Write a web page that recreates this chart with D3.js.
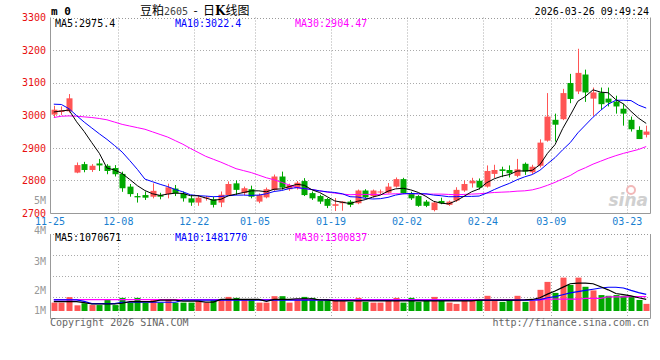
<!DOCTYPE html>
<html><head><meta charset="utf-8">
<script src="https://cdn.jsdelivr.net/npm/d3@7"></script>
<style>
body{margin:0;background:#fff}
svg{display:block}
text{font-family:"DejaVu Sans Mono",monospace;font-size:10px}
</style>
</head><body><div id="chart"></div>
<script>
// ---------- DATA ----------
const dates = ["11-25","11-26","11-27","11-28",
"12-01","12-02","12-03","12-04","12-05","12-08","12-09","12-10","12-11","12-12","12-15","12-16","12-17","12-18","12-19","12-22","12-23","12-24","12-25","12-26","12-29","12-30","12-31",
"01-05","01-06","01-07","01-08","01-09","01-12","01-13","01-14","01-15","01-16","01-19","01-20","01-21","01-22","01-23","01-26","01-27","01-28","01-29","01-30",
"02-02","02-03","02-04","02-05","02-06","02-09","02-10","02-11","02-12","02-13","02-24","02-25","02-26","02-27",
"03-02","03-03","03-04","03-05","03-06","03-09","03-10","03-11","03-12","03-13","03-16","03-17","03-18","03-19","03-20","03-23","03-24","03-25"];
const openP  = [3002,3010,3012,2824,2850,2832,2852,2845,2838,2820,2781,2752,2755,2750,2755,2758,2775,2760,2745,2732,2745,2742,2732,2755,2791,2761,2773,2735,2748,2771,2812,2773,2776,2798,2761,2752,2743,2722,2730,2735,2730,2769,2752,2763,2762,2781,2804,2761,2752,2735,2709,2737,2725,2738,2769,2791,2799,2781,2820,2834,2832,2814,2851,2825,2845,2922,2986,2988,3099,3073,3125,3051,3070,3051,3042,3020,2986,2955,2940];
const highP  = [3029,3027,3065,2855,2857,2850,2866,2850,2847,2827,2789,2761,2766,2791,2762,2790,2786,2766,2755,2755,2752,2750,2766,2797,2800,2781,2784,2760,2778,2818,2827,2790,2798,2807,2766,2756,2746,2746,2736,2740,2772,2773,2772,2772,2792,2809,2808,2765,2755,2740,2735,2747,2738,2779,2800,2808,2806,2846,2848,2842,2846,2866,2855,2848,2926,3068,3005,3081,3127,3204,3140,3085,3085,3085,3060,3035,2996,2966,2968];
const lowP   = [2992,3001,3008,2822,2825,2826,2829,2819,2812,2765,2750,2732,2740,2745,2742,2745,2752,2735,2722,2722,2738,2717,2718,2755,2755,2755,2745,2730,2745,2768,2772,2768,2772,2752,2740,2728,2715,2706,2707,2718,2727,2745,2748,2758,2760,2778,2758,2740,2719,2718,2705,2727,2722,2734,2765,2778,2772,2778,2807,2810,2809,2810,2817,2820,2840,2919,2919,2985,3037,3065,3041,2998,3017,3027,3005,2968,2950,2927,2932];
const closeP = [3017,3015,3052,2847,2832,2845,2846,2829,2819,2776,2758,2748,2747,2768,2750,2779,2760,2745,2732,2747,2748,2725,2756,2789,2771,2776,2750,2755,2773,2812,2778,2786,2793,2755,2745,2735,2722,2727,2735,2725,2769,2748,2769,2766,2781,2804,2761,2745,2722,2722,2732,2730,2735,2771,2789,2799,2778,2829,2832,2829,2822,2834,2827,2842,2916,2996,2971,3068,3050,3130,3070,3070,3034,3039,3027,3005,2957,2927,2950];
const ma5  = [3010,3013,3016,2980,2950,2916,2883,2838,2832,2821,2803,2784,2769,2759,2754,2758,2761,2760,2753,2753,2746,2739,2742,2753,2758,2763,2768,2768,2765,2773,2774,2781,2788,2785,2771,2763,2750,2737,2733,2729,2736,2741,2749,2755,2767,2774,2776,2771,2763,2751,2736,2730,2728,2738,2751,2765,2774,2793,2805,2813,2818,2829,2829,2831,2848,2883,2910,2959,3000,3043,3058,3078,3071,3069,3048,3035,3012,2991,2975];
const ma10 = [3034,3033,3020,2999,2979,2961,2943,2926,2907,2887,2861,2834,2804,2796,2788,2781,2772,2765,2756,2753,2752,2750,2751,2753,2755,2755,2754,2755,2759,2766,2769,2775,2778,2775,2772,2768,2765,2763,2759,2750,2749,2745,2743,2744,2748,2755,2759,2760,2759,2759,2755,2753,2750,2750,2751,2751,2752,2761,2772,2782,2791,2802,2811,2818,2831,2851,2870,2894,2916,2946,2970,2994,3015,3034,3046,3046,3045,3031,3022];
const ma30 = [2993,2997,2998,2997,2995,2993,2990,2986,2979,2972,2967,2962,2957,2949,2941,2933,2922,2911,2898,2886,2874,2865,2856,2846,2836,2830,2824,2816,2808,2802,2794,2786,2778,2775,2772,2768,2764,2761,2758,2756,2757,2757,2757,2757,2758,2759,2759,2759,2759,2758,2758,2758,2757,2756,2757,2758,2759,2761,2763,2764,2765,2767,2768,2771,2777,2785,2794,2805,2815,2829,2839,2850,2859,2868,2876,2883,2889,2895,2904];
const volume = [800000,800000,1250000,580000,750000,600000,600000,1020000,600000,1190000,800000,1190000,800000,1100000,800000,1100000,800000,800000,800000,940000,800000,1020000,1020000,1270000,1190000,1020000,1020000,800000,800000,1330000,1330000,800000,1020000,1270000,1190000,940000,1020000,1100000,940000,860000,1190000,860000,800000,800000,1020000,1190000,800000,1190000,860000,940000,1270000,940000,800000,700000,1020000,1020000,940000,1360000,940000,860000,1020000,1360000,860000,940000,1850000,2500000,1600000,2850000,2250000,2850000,2100000,1800000,1420000,1360000,1420000,1360000,1270000,1020000,700000];
const vma5  = [880000,880000,880000,880000,800000,690000,690000,690000,690000,750000,880000,880000,880000,880000,1000000,1000000,1000000,920000,920000,920000,850000,850000,1070000,1070000,1070000,1070000,1070000,1070000,900000,1070000,1070000,1070000,1120000,1120000,1120000,1020000,1020000,950000,950000,950000,950000,950000,950000,950000,950000,950000,950000,950000,950000,950000,950000,950000,950000,950000,950000,950000,1000000,1000000,1000000,1000000,1000000,1000000,1020000,1060000,1200000,1500000,1750000,2050000,2350000,2400000,2400000,2350000,2100000,1850000,1550000,1450000,1350000,1200000,1070671];
const vma10 = [1020000,1020000,1020000,1020000,900000,720000,720000,720000,720000,830000,830000,830000,830000,830000,830000,830000,830000,1000000,1000000,1000000,1000000,1000000,1000000,1000000,1000000,1000000,1000000,1000000,1000000,1000000,1000000,1000000,1000000,1000000,1000000,1000000,1000000,980000,980000,980000,980000,980000,980000,980000,980000,980000,980000,980000,980000,980000,980000,980000,980000,980000,980000,980000,980000,980000,980000,980000,980000,1000000,1000000,1000000,1050000,1200000,1300000,1450000,1600000,1700000,1800000,1900000,2000000,2060000,2060000,2000000,1800000,1620000,1481770];
const vma30 = [1050000,1050000,1050000,1050000,1050000,1050000,1050000,1050000,1050000,1050000,1050000,1050000,1050000,1050000,1050000,1050000,1050000,1050000,1050000,1050000,1050000,1050000,1050000,1050000,1050000,1050000,1050000,1050000,1050000,1050000,1050000,1050000,1050000,1050000,1050000,1050000,1050000,1050000,1050000,1050000,1050000,1050000,1050000,1050000,1050000,1050000,1050000,1050000,1050000,1050000,1050000,1050000,1050000,1050000,1050000,1050000,1050000,1050000,1050000,1050000,1050000,1020000,1020000,1020000,1020000,1080000,1080000,1080000,1080000,1080000,1150000,1150000,1150000,1280000,1280000,1280000,1290000,1295000,1300837];
const tickDates = ["11-25","12-08","12-22","01-05","01-19","02-02","02-24","03-09","03-23"];
const priceTicks = [2700,2800,2900,3000,3100,3200,3300];
const volTickLabels = ["4M","3M","2M","1M"];
const priceLegend = [["MA5:2975.4","#000"],["MA10:3022.4","#0000ff"],["MA30:2904.47","#ff00ff"]];
const volLegend = [["MA5:1070671","#000"],["MA10:1481770","#0000ff"],["MA30:1300837","#ff00ff"]];

// ---------- CHART ----------
const W = 660, H = 360;
const L = 50, R = 650, pTop = 17.5, pBot = 213, vTop = 234, vBot = 318;
const UP = "#ff5555", DOWN = "#00a800", GRID = "#aaa", FRAME = "#999";
const svg = d3.select("#chart").append("svg").attr("width", W).attr("height", H);

const x = d3.scaleBand().domain(dates).range([L, R]);
const cx = d => x(d) + x.bandwidth() / 2;
const y = d3.scaleLinear().domain([2700, 3300]).range([pBot, pTop]);
const yv = d3.scaleLinear().domain([0, 4000000]).range([312.4, 263.6]);
const yvLabel = d3.scaleOrdinal().domain(volTickLabels).range([230, 261.5, 290.5, 310.5]);
const yvGrid = d3.scaleLinear().domain([0, 4]).range([vBot, vTop]);

const rows = dates.map((d, i) => ({d, o: openP[i], h: highP[i], l: lowP[i], c: closeP[i], v: volume[i]}));

// grids
const g = svg.append("g");
g.selectAll(".hg").data(priceTicks.filter(p => p > 2700 && p < 3300)).join("line")
  .attr("x1", L).attr("x2", R)
  .attr("y1", p => Math.round(y(p)) + 0.5).attr("y2", p => Math.round(y(p)) + 0.5)
  .attr("stroke", GRID).attr("stroke-dasharray", "1,2");
[[pTop, pBot], [vTop, vBot]].forEach(([t, b]) => {
  g.selectAll(null).data(tickDates.slice(1)).join("line")
    .attr("x1", d => Math.round(x(d)) + 0.5).attr("x2", d => Math.round(x(d)) + 0.5)
    .attr("y1", t).attr("y2", b)
    .attr("stroke", GRID).attr("stroke-dasharray", "1,2");
});
g.selectAll(".vg").data([1, 2, 3]).join("line")
  .attr("x1", L).attr("x2", R)
  .attr("y1", k => Math.round(yvGrid(k)) + 0.5).attr("y2", k => Math.round(yvGrid(k)) + 0.5)
  .attr("stroke", GRID).attr("stroke-dasharray", "1,2");

// frames
[[pTop, pBot], [vTop, vBot]].forEach(([t, b]) => {
  svg.append("line").attr("x1", L).attr("x2", R).attr("y1", Math.round(t) + 0.5).attr("y2", Math.round(t) + 0.5)
    .attr("stroke", FRAME).attr("stroke-dasharray", "1,2");
  svg.append("path").attr("d", `M${L + 0.5},${t}V${Math.round(b) + 0.5}H${R + 0.5}V${t}`)
    .attr("fill", "none").attr("stroke", FRAME);
});

// watermark
const wm = svg.append("g");
wm.append("text").attr("x", 648).attr("y", 206).attr("text-anchor", "end")
  .style("font-family", "DejaVu Sans").style("font-size", "17px").style("font-weight", "bold").style("font-style", "italic")
  .attr("fill", "#d0d0d0").text("sina");
wm.append("circle").attr("cx", 631).attr("cy", 190).attr("r", 4).attr("fill", "none").attr("stroke", "#f2b8b8").attr("stroke-width", 2);

// candles
const cg = svg.append("g");
cg.selectAll("line").data(rows).join("line")
  .attr("x1", r => Math.round(cx(r.d)) + 0.5).attr("x2", r => Math.round(cx(r.d)) + 0.5)
  .attr("y1", r => y(r.h)).attr("y2", r => y(r.l))
  .attr("stroke", r => r.c >= r.o ? UP : DOWN);
cg.selectAll("rect").data(rows).join("rect")
  .attr("x", r => Math.round(cx(r.d)) - 2.5)
  .attr("width", 6)
  .attr("y", r => y(Math.max(r.o, r.c)))
  .attr("height", r => Math.max(1, Math.abs(y(r.o) - y(r.c))))
  .attr("fill", r => r.c >= r.o ? UP : DOWN);

// price MAs
const lineP = arr => d3.line().x((v, i) => cx(dates[i])).y(v => y(v))(arr);
[[ma30, "#ff00ff"], [ma10, "#0000ff"], [ma5, "#000"]].forEach(([a, col]) => {
  svg.append("path").attr("d", lineP(a)).attr("fill", "none").attr("stroke", col).attr("stroke-width", 1);
});

// volume bars
svg.append("g").selectAll("rect").data(rows).join("rect")
  .attr("x", r => Math.round(cx(r.d)) - 2.5)
  .attr("width", 6)
  .attr("y", r => yv(r.v))
  .attr("height", r => 311 - yv(r.v))
  .attr("fill", r => r.c >= r.o ? UP : DOWN);
const lineV = arr => d3.line().x((v, i) => cx(dates[i])).y(v => yv(v))(arr);
[[vma30, "#ff00ff"], [vma10, "#0000ff"], [vma5, "#000"]].forEach(([a, col]) => {
  svg.append("path").attr("d", lineV(a)).attr("fill", "none").attr("stroke", col).attr("stroke-width", 1.2);
});

// axis labels
const yAxis = d3.axisLeft(y).tickValues(priceTicks).tickFormat(d3.format("d")).tickSize(0).tickPadding(4);
const ya = svg.append("g").attr("transform", `translate(${L},0)`).call(yAxis);
ya.select(".domain").remove();
ya.selectAll("text").attr("fill", "#e81010").style("font-size", "10px").style("font-family", "DejaVu Sans Mono");

svg.append("text").attr("x", 46).attr("y", 203.5).attr("text-anchor", "end").attr("fill", "#999").text("5M");

const xAxis = d3.axisBottom(x).tickValues(tickDates).tickSize(0).tickPadding(0);
const xa = svg.append("g").attr("transform", `translate(${-x.bandwidth() / 2},${pBot + 4.5})`).call(xAxis);
xa.select(".domain").remove();
xa.selectAll("text").attr("fill", "#1a7fd0").style("font-size", "10px").style("font-family", "DejaVu Sans Mono");

svg.selectAll(".vl").data(volTickLabels).join("text")
  .attr("x", 46).attr("y", d => yvLabel(d) + 3.5).attr("text-anchor", "end").attr("fill", "#999").text(d => d);

// legends
[[priceLegend, 27], [volLegend, 241]].forEach(([items, yy]) => {
  svg.selectAll(null).data(items).join("text")
    .attr("x", (d, i) => 55 + i * 120).attr("y", yy).attr("fill", d => d[1]).text(d => d[0]);
});

// header
svg.append("text").attr("x", 51).attr("y", 15).style("font-size", "11px").style("font-weight", "bold").text("m 0");
const title = svg.append("text").attr("x", 140).attr("y", 14.5)
  .style("font-family", "'Noto Sans CJK SC'").style("font-size", "12px").style("white-space", "pre");
title.append("tspan").text("豆粕");
title.append("tspan").attr("fill", "#444").style("font-family", "DejaVu Sans Mono").style("font-size", "10px").text("2605");
title.append("tspan").text("\u00a0\u00a0-\u00a0\u00a0日");
title.append("tspan").style("font-weight", "bold").style("font-family", "DejaVu Serif").text("K");
title.append("tspan").text("线图");
svg.append("text").attr("x", 649).attr("y", 15).attr("text-anchor", "end").attr("fill", "#000").text("2026-03-26 09:49:24");

// footer
svg.append("text").attr("x", 50).attr("y", 326).attr("fill", "#666").text("Copyright 2026 SINA.COM");
svg.append("text").attr("x", 649).attr("y", 326).attr("text-anchor", "end").attr("fill", "#666").text("http://finance.sina.com.cn");
</script>
</body></html>
